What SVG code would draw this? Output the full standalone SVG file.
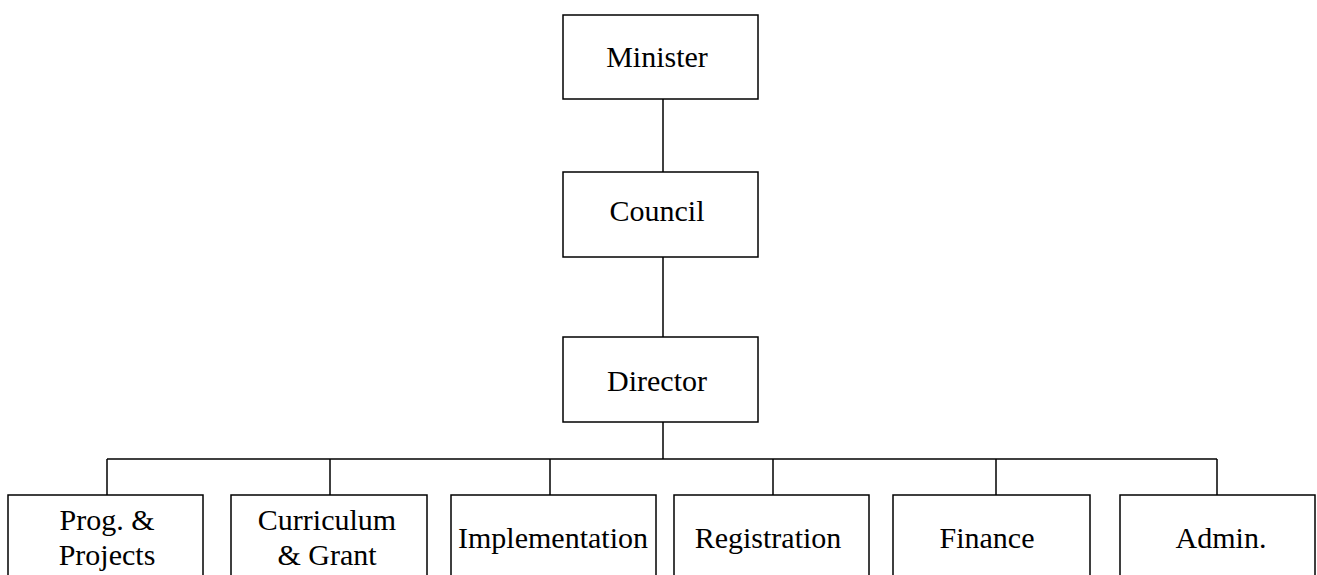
<svg xmlns="http://www.w3.org/2000/svg" width="1317" height="575" viewBox="0 0 1317 575">
<style>
.box{fill:#fff;stroke:#000;stroke-width:1.5}
.ln{stroke:#000;stroke-width:1.5;fill:none}
text{font-family:"Liberation Serif","Times New Roman",serif;font-size:30px;fill:#000;text-anchor:middle}
</style>
<rect width="1317" height="575" fill="#fff"/>
<g id="connectors">
<line class="ln" x1="663" y1="99" x2="663" y2="172"/>
<line class="ln" x1="663" y1="257" x2="663" y2="337"/>
<line class="ln" x1="663" y1="422" x2="663" y2="459"/>
<line class="ln" x1="107" y1="459" x2="1217" y2="459"/>
<line class="ln" x1="107" y1="459" x2="107" y2="495"/>
<line class="ln" x1="330" y1="459" x2="330" y2="495"/>
<line class="ln" x1="550" y1="459" x2="550" y2="495"/>
<line class="ln" x1="773" y1="459" x2="773" y2="495"/>
<line class="ln" x1="996" y1="459" x2="996" y2="495"/>
<line class="ln" x1="1217" y1="459" x2="1217" y2="495"/>
</g>
<g id="minister"><rect class="box" x="563" y="15" width="195" height="84"/><text x="657" y="67">Minister</text></g>
<g id="council"><rect class="box" x="563" y="172" width="195" height="85"/><text x="657" y="221">Council</text></g>
<g id="director"><rect class="box" x="563" y="337" width="195" height="85"/><text x="657" y="391">Director</text></g>
<g id="prog"><rect class="box" x="8" y="495" width="195" height="90"/><text x="107" y="530">Prog. &amp;</text><text x="107" y="565">Projects</text></g>
<g id="curriculum"><rect class="box" x="231" y="495" width="196" height="90"/><text x="327" y="530">Curriculum</text><text x="327" y="565">&amp; Grant</text></g>
<g id="implementation"><rect class="box" x="451" y="495" width="205" height="90"/><text x="553" y="548">Implementation</text></g>
<g id="registration"><rect class="box" x="674" y="495" width="195" height="90"/><text x="768" y="548">Registration</text></g>
<g id="finance"><rect class="box" x="893" y="495" width="197" height="90"/><text x="987" y="548">Finance</text></g>
<g id="admin"><rect class="box" x="1120" y="495" width="195" height="90"/><text x="1221" y="548">Admin.</text></g>
</svg>
